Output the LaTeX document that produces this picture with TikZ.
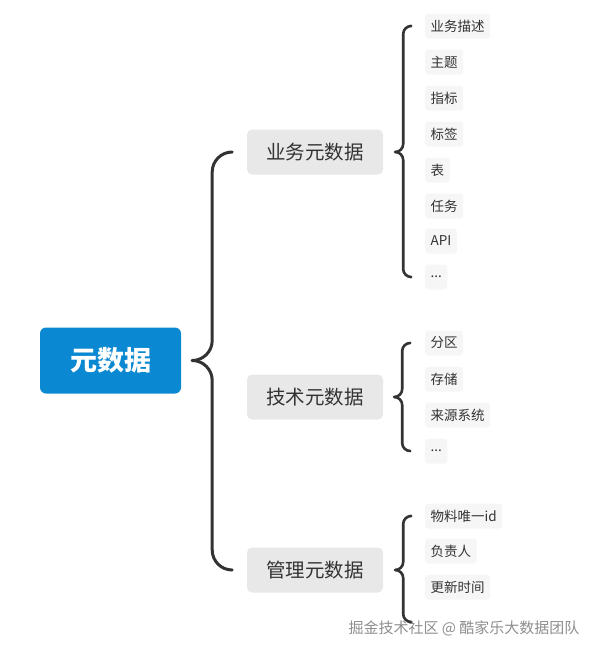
\documentclass[tikz,border=0pt]{standalone}
\usepackage{fontspec}
\setmainfont{Noto Sans CJK SC}
\usepackage{xcolor}
\usetikzlibrary{calc}
\definecolor{rootblue}{HTML}{0A88D1}
\definecolor{catgray}{HTML}{E8E8E8}
\definecolor{leafgray}{HTML}{F6F6F6}
\definecolor{ink}{HTML}{333333}
\definecolor{markgray}{HTML}{8E8E8E}
\tikzset{
  rootbox/.style={rounded corners=6pt, fill=rootblue, text=white, minimum width=141pt,
                  minimum height=66pt, inner sep=0pt, font=\fontsize{27}{30}\selectfont\bfseries},
  catbox/.style={rounded corners=5pt, fill=catgray, text=ink, minimum width=136pt,
                 minimum height=45pt, inner sep=0pt, font=\fontsize{19.5}{22}\selectfont},
  leafbox/.style={rounded corners=3pt, fill=leafgray, text=ink, anchor=west, inner xsep=5.5pt,
                  minimum height=25pt, inner ysep=0pt, font=\fontsize{13.5}{16}\selectfont},
  bigbrace/.style={draw=ink, line width=3pt, rounded corners=20pt},
  smallbrace/.style={draw=ink, line width=2.6pt, rounded corners=8pt},
}

\begin{document}
\begin{tikzpicture}[x=1pt, y=-1pt, line cap=round, line join=round]
\useasboundingbox (0,0) rectangle (595,653);

% ---- root and the three kinds ----
\node[rootbox] (meta) at (110.5,360.5) {元数据};
\node[catbox] (biz)  at (315,152) {业务元数据};
\node[catbox] (tech) at (315,397) {技术元数据};
\node[catbox] (mgmt) at (315,570) {管理元数据};

% big brace: tip just right of the root, arms ending before the kinds
\coordinate (tip) at ($(meta.east)+(11,0)$);
\draw[bigbrace] ($(biz.west)+(-15,0)$) -| ($(tip)+(20,0)$) -- (tip);
\draw[bigbrace] ($(mgmt.west)+(-15,0)$) -| ($(tip)+(20,0)$) -- (tip);

% ---- business leaves ----
\node[leafbox] (b1) at (425,26)  {业务描述};
\node[leafbox] (b2) at (425,62)  {主题};
\node[leafbox] (b3) at (425,98)  {指标};
\node[leafbox] (b4) at (425,134) {标签};
\node[leafbox] (b5) at (425,170) {表};
\node[leafbox] (b6) at (425,206) {任务};
\node[leafbox] (b7) at (425,241) {API};
\node[leafbox] (b8) at (425,277) {...};

% ---- technical leaves ----
\node[leafbox] (t1) at (425,343) {分区};
\node[leafbox] (t2) at (425,379) {存储};
\node[leafbox] (t3) at (425,415) {来源系统};
\node[leafbox] (t4) at (425,451) {...};

% ---- management leaves ----
\node[leafbox] (m1) at (425,516) {物料唯一id};
\node[leafbox] (m2) at (425,551) {负责人};
\node[leafbox] (m3) at (425,587) {更新时间};
\coordinate (m4) at (425,622);

% small braces, tip 12pt right of each kind
\coordinate (btip) at ($(biz.east)+(12,0)$);
\draw[smallbrace] ($(b1.west)+(-15,0)$) -| ($(btip)+(8,0)$) -- (btip);
\draw[smallbrace] ($(b8.west)+(-15,0)$) -| ($(btip)+(8,0)$) -- (btip);
\coordinate (ttip) at ($(tech.east)+(11,0)$);
\draw[smallbrace] ($(t1.west)+(-15,0)$) -| ($(ttip)+(8,0)$) -- (ttip);
\draw[smallbrace] ($(t4.west)+(-15,0)$) -| ($(ttip)+(8,0)$) -- (ttip);
\coordinate (mtip) at ($(mgmt.east)+(12,0)$);
\draw[smallbrace] ($(m1.west)+(-15,0)$) -| ($(mtip)+(8,0)$) -- (mtip);
\draw[smallbrace] ($(m4)+(-15,0)$) -| ($(mtip)+(8,0)$) -- (mtip);

% watermark
\node[text=markgray, font=\fontsize{15}{18}\selectfont, anchor=west] (mark) at (345,628)
  {掘金技术社区 @ 酷家乐大数据团队};

\end{tikzpicture}
\end{document}
